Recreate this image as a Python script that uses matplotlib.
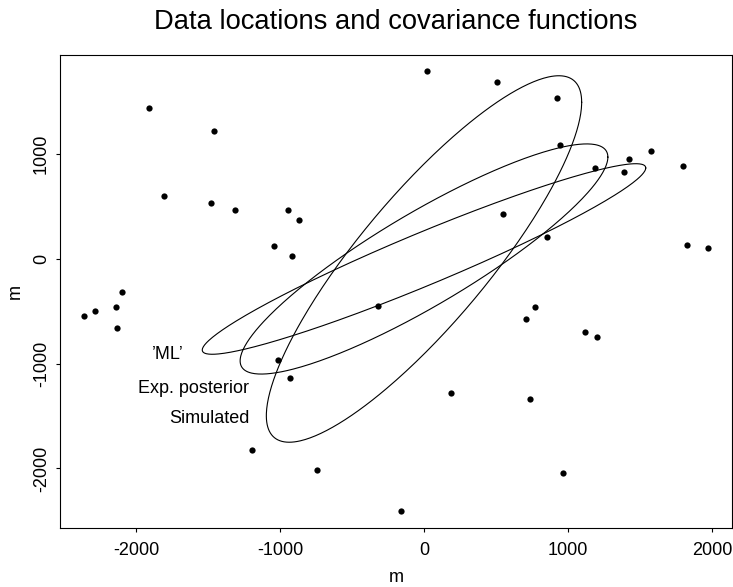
import numpy as np
import matplotlib
matplotlib.use("Agg")
import matplotlib.pyplot as plt

plt.rcParams['font.family'] = ['Liberation Sans', 'DejaVu Sans']
plt.rcParams['axes.unicode_minus'] = False

# data locations (m)
loc_x = [-1912, -1457, -1808, -1480, -1311, -946, -871, -1044, -920, 20,
         507, 927, 946, 546, 855, 1187, 1388, 1427, 1574, 1802,
         1824, 1971, -2358, -2283, -2137, -2094, -2133, -322, 768, 706,
         1119, 1203, -1012, -933, 188, 735, -1197, -741, 965, -159]
loc_y = [1438, 1227, 605, 538, 471, 471, 376, 127, 32, 1791,
         1686, 1533, 1093, 433, 213, 873, 835, 959, 1035, 892,
         136, 108, -542, -494, -456, -313, -657, -446, -456, -571,
         -695, -743, -963, -1135, -1279, -1336, -1823, -2015, -2044, -2406]

# covariance ellipses: x/y half-widths and correlation
ell_names = ["Simulated", "Exp. posterior", "\u2019ML\u2019"]
ell_sx = [1095, 1277, 1540]
ell_sy = [1750, 1099, 910]
ell_rho = [0.855, 0.885, 0.955]

# label anchors (right end, baseline)
lab_x = [-1213, -1213, -1672]
lab_y = [-1563, -1277, -955]

W, H = 733, 587
fig = plt.figure(figsize=(W / 100, H / 100), dpi=100)
ax = fig.add_axes([60 / W, 1 - 528.3 / H, (731.7 - 60) / W, (528.3 - 54.7) / H])

ax.plot(loc_x, loc_y, 'o', color='black', markersize=4.5, markeredgewidth=0)

t = np.linspace(0, 2 * np.pi, 400)
for sx, sy, rho in zip(ell_sx, ell_sy, ell_rho):
    ex = sx * np.cos(t)
    ey = sy * (rho * np.cos(t) + np.sqrt(1 - rho ** 2) * np.sin(t))
    ax.plot(ex, ey, color='black', lw=0.8)

for name, x, y in zip(ell_names, lab_x, lab_y):
    ax.text(x, y, name, ha='right', va='baseline', fontsize=13)

ax.set_xlim(-2528, 2137)
ax.set_ylim(-2572, 1951)
ax.set_xticks([-2000, -1000, 0, 1000, 2000])
ax.set_yticks([-2000, -1000, 0, 1000])
ax.tick_params(direction='out', length=3.1, width=0.8, labelsize=13)
ax.tick_params(axis='x', pad=6.5)
ax.tick_params(axis='y', pad=4.2)
for lbl in ax.get_yticklabels():
    lbl.set_rotation(90)
    lbl.set_va('center')
for s in ax.spines.values():
    s.set_linewidth(0.8)

fig.text(396 / W, 1 - 29 / H, "Data locations and covariance functions",
         ha='center', va='baseline', fontsize=19.7)
fig.text(396 / W, 1 - 581.7 / H, "m", ha='center', va='baseline', fontsize=13)
fig.text(20 / W, 1 - 291.5 / H, "m", rotation=90, rotation_mode='anchor',
         ha='center', va='baseline', fontsize=13)

fig.savefig("out.png", dpi=100)
